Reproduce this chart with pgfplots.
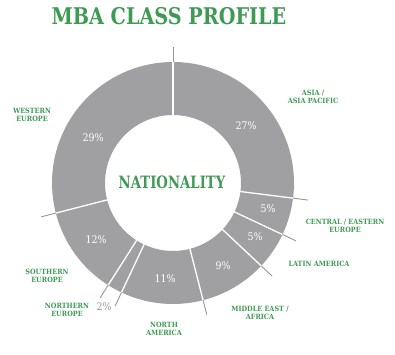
\documentclass[border=0pt]{standalone}
\usepackage{fontspec}
\setmainfont{DejaVu Serif}
\newfontfamily\slab[FakeStretch=0.78]{DejaVu Serif}
\newfontfamily\titlef[FakeStretch=0.835]{DejaVu Serif}
\newfontfamily\lab[FakeStretch=0.9]{DejaVu Serif}
\usepackage{pgfplots}
\pgfplotsset{compat=1.18}
\definecolor{pgreen}{RGB}{62,154,84}
\definecolor{ring}{RGB}{160,159,161}
\definecolor{sep}{RGB}{150,150,150}
% centre of the ring (axis units = pt, y up; picture 395 x 354)
\newcommand{\cx}{173}
\newcommand{\cy}{171}
% #1 cumulative share before slice, #2 share
\newcommand{\slice}[2]{%
  \fill[ring] (axis cs:\cx,\cy) ++({90-3.6*#1}:121pt)
    arc[start angle={90-3.6*#1}, end angle={90-3.6*(#1+#2)}, radius=121pt]
    -- ++({90-3.6*(#1+#2)}:-53pt)
    arc[start angle={90-3.6*(#1+#2)}, end angle={90-3.6*#1}, radius=68pt]
    -- cycle;
}
\newcommand{\separator}[1]{%
  \draw[white, line width=1.3pt] (axis cs:\cx,\cy) ++({90-3.6*#1}:67pt) -- ++({90-3.6*#1}:54pt);
  \draw[sep, line width=0.9pt] (axis cs:\cx,\cy) ++({90-3.6*#1}:121pt) -- ++({90-3.6*#1}:15pt);
}
\begin{document}
\begin{tikzpicture}
\begin{axis}[x=1pt, y=1pt, xmin=0, xmax=395, ymin=0, ymax=354,
  hide axis, clip=false,
  every node/.append style={inner sep=0pt, outer sep=0pt}]
\path (axis cs:0,0) rectangle (axis cs:395,354);
% shares in percent, clockwise from the top
\slice{0}{27}   % Asia / Asia Pacific
\slice{27}{5}   % Central / Eastern Europe
\slice{32}{5}   % Latin America
\slice{37}{9}   % Middle East / Africa
\slice{46}{11}  % North America
\slice{57}{2}   % Northern Europe
\slice{59}{12}  % Southern Europe
\slice{71}{29}  % Western Europe
\separator{0}\separator{27}\separator{32}\separator{37}
\separator{46}\separator{57}\separator{59}\separator{71}
% value labels
\begin{scope}[every node/.style={text=white, font=\lab\fontsize{10.5}{11}\selectfont}]
\node at (axis cs:246,228) {27\%};
\node at (axis cs:268,145) {5\%};
\node at (axis cs:255,117) {5\%};
\node at (axis cs:223,88) {9\%};
\node at (axis cs:165,75) {11\%};
\node at (axis cs:96,114) {12\%};
\node at (axis cs:93,216) {29\%};
\end{scope}
\node[text=sep, font=\lab\fontsize{10.5}{11}\selectfont] at (axis cs:104,47) {2\%};
% category labels
\begin{scope}[every node/.style={text=pgreen, align=center, font=\lab\bfseries\fontsize{7.2}{8.3}\selectfont}]
\node at (axis cs:313,257) {ASIA /\\ASIA PACIFIC};
\node at (axis cs:345,128) {CENTRAL / EASTERN\\EUROPE};
\node at (axis cs:319,90) {LATIN AMERICA};
\node at (axis cs:260,41) {MIDDLE EAST /\\AFRICA};
\node at (axis cs:164,25) {NORTH\\AMERICA};
\node at (axis cs:67,44) {NORTHERN\\EUROPE};
\node at (axis cs:47,78) {SOUTHERN\\EUROPE};
\node at (axis cs:32,239) {WESTERN\\EUROPE};
\end{scope}
\node[text=pgreen, font=\slab\bfseries\fontsize{17}{17}\selectfont] at (axis cs:172,172) {NATIONALITY};
\node[text=pgreen, font=\titlef\bfseries\fontsize{23}{23}\selectfont] at (axis cs:169,337.5) {MBA CLASS PROFILE};
\end{axis}
\end{tikzpicture}
\end{document}
